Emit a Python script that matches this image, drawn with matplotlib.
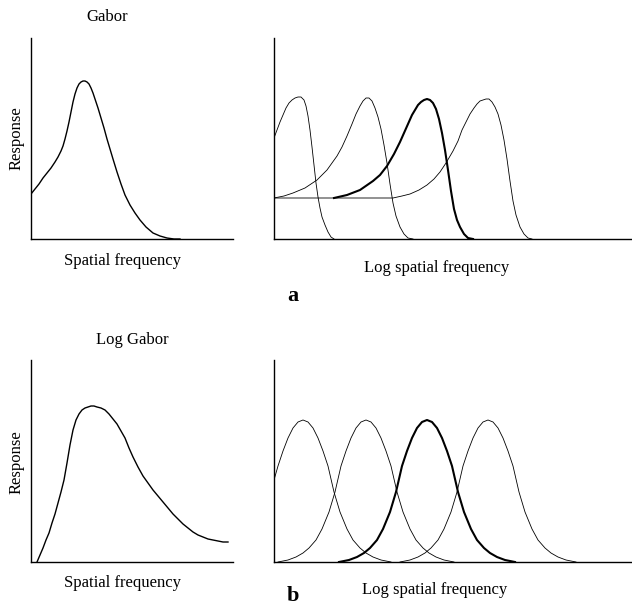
import matplotlib
matplotlib.use("Agg")
import matplotlib.pyplot as plt

# Figure is 632 x 605 px; data units below are pixel offsets from each axes origin
W, H = 632, 605

# --- panel a, left: Gabor response vs linear spatial frequency ---
gabor_x = [0, 4, 8, 12, 16, 20, 24, 27, 30, 32, 34, 36, 38, 40, 42, 44, 46, 48,
           50, 52, 54, 56, 58, 60, 62, 64, 67, 70, 73, 76, 79, 82, 86, 90, 94, 99,
           104, 109, 115, 122, 129, 136, 143, 149]
gabor_y = [45, 50, 55, 61, 66, 71, 77, 82, 88, 93, 100, 108, 117, 127, 137, 145,
           151, 155, 157, 158, 158, 157, 155, 151, 146, 140, 131, 121, 111, 100, 90,
           80, 67, 55, 44, 34, 26, 19, 12, 6, 3, 1, 0, 0]

# --- panel a, right: Gabor filter bank on log frequency axis ---
gab_bank_x = [
    [0, 3, 6, 9, 12, 15, 18, 21, 24, 27, 30, 32, 34, 36, 38, 40, 42, 44, 46, 48,
     51, 54, 57, 60],
    [0, 10, 19, 31, 43, 53, 63, 68, 73, 78, 82, 86, 89, 92, 95, 98, 101, 104, 107,
     110, 113, 116, 119, 122, 126, 130, 134, 139],
    [60, 73, 86, 99, 106, 113, 120, 126, 130, 134, 138, 141, 144, 147, 150, 153,
     156, 159, 162, 165, 168, 171, 174, 177, 180, 183, 186, 190, 194, 199],
    [0, 119, 128, 136, 145, 153, 160, 166, 172, 179, 184, 188, 192, 196, 200, 203,
     206, 209, 212, 215, 218, 221, 224, 227, 230, 233, 236, 239, 242, 246, 250,
     254, 258],
]
gab_bank_y = [
    [101, 109, 117, 124, 131, 136, 139, 141, 142, 142, 139, 133, 123, 109, 92, 74,
     56, 42, 31, 22, 14, 7, 2, 0],
    [41, 43, 46, 51, 59, 69, 83, 92, 103, 115, 125, 133, 138, 141, 141, 138, 131,
     122, 110, 94, 76, 55, 36, 23, 12, 5, 1, 0],
    [41, 44, 49, 58, 64, 73, 85, 97, 106, 115, 124, 129, 134, 137, 139, 140, 139,
     136, 130, 120, 106, 89, 69, 48, 30, 19, 12, 5, 1, 0],
    [41, 41, 43, 45, 49, 54, 60, 67, 76, 88, 98, 109, 117, 125, 131, 135, 138,
     139, 140, 140, 137, 132, 125, 114, 99, 80, 58, 38, 24, 12, 5, 1, 0],
]

# --- panel b, left: log-Gabor response vs linear spatial frequency ---
loggabor_x = [6, 9, 12, 15, 18, 21, 24, 27, 30, 33, 36, 39, 42, 45, 48, 51, 54,
              57, 60, 63, 66, 70, 74, 78, 82, 86, 90, 94, 98, 102, 107, 112, 117,
              122, 127, 132, 137, 142, 147, 152, 157, 162, 167, 172, 177, 182, 187,
              192, 197]
loggabor_y = [0, 7, 14, 22, 29, 39, 48, 59, 70, 82, 99, 117, 132, 142, 148, 152,
              154, 155, 156, 156, 155, 154, 152, 148, 143, 138, 131, 124, 114, 105,
              95, 86, 79, 72, 66, 60, 54, 48, 43, 38, 34, 30, 27, 25, 23, 22, 21,
              20, 20]

# --- panel b, right: log-Gabor filter bank on log frequency axis ---
lg_bank_x = [
    [0, 4, 9, 14, 19, 24, 29, 34, 39, 44, 49, 54, 60, 66, 73, 79, 86, 92, 99, 107, 117],
    [4, 14, 22, 29, 35, 42, 48, 55, 61, 67, 72, 77, 82, 87, 92, 97, 102, 107, 112,
     117, 123, 129, 136, 142, 149, 155, 162, 170, 180],
    [65, 75, 83, 90, 96, 103, 109, 116, 122, 128, 133, 138, 143, 148, 153, 158, 163,
     168, 173, 178, 184, 190, 197, 203, 210, 216, 223, 231, 241],
    [126, 136, 144, 151, 157, 164, 170, 177, 183, 189, 194, 199, 204, 209, 214, 219,
     224, 229, 234, 239, 245, 251, 258, 264, 271, 277, 284, 292, 302],
]
lg_bank_y = [
    [82, 96, 111, 124, 134, 140, 142, 140, 134, 124, 111, 96, 70, 50, 33, 22, 14, 9, 5, 2, 0],
    [0, 2, 5, 9, 14, 22, 33, 50, 70, 96, 111, 124, 134, 140, 142, 140, 134, 124, 111,
     96, 70, 50, 33, 22, 14, 9, 5, 2, 0],
    [0, 2, 5, 9, 14, 22, 33, 50, 70, 96, 111, 124, 134, 140, 142, 140, 134, 124, 111,
     96, 70, 50, 33, 22, 14, 9, 5, 2, 0],
    [0, 2, 5, 9, 14, 22, 33, 50, 70, 96, 111, 124, 134, 140, 142, 140, 134, 124, 111,
     96, 70, 50, 33, 22, 14, 9, 5, 2, 0],
]
highlight = 2  # third filter of each bank drawn heavier

plt.rcParams["font.family"] = ["Liberation Serif", "DejaVu Serif"]
plt.rcParams["font.size"] = 12

fig = plt.figure(figsize=(W / 100, H / 100), dpi=100)


def add_axes(left, top, right, bottom):
    """Axes from pixel box (top-left image origin)."""
    ax = fig.add_axes([left / W, 1 - bottom / H, (right - left) / W, (bottom - top) / H])
    ax.set_xlim(0, right - left)
    ax.set_ylim(0, bottom - top)
    for side in ("top", "right"):
        ax.spines[side].set_visible(False)
    for side in ("left", "bottom"):
        ax.spines[side].set_linewidth(1.0)
    ax.set_xticks([])
    ax.set_yticks([])
    ax.patch.set_alpha(0)
    return ax


def label(x, y, s, **kw):
    fig.text(x / W, 1 - y / H, s, ha="center", va="center", **kw)


ax1 = add_axes(31, 38, 233, 239)
ax1.plot(gabor_x, gabor_y, color="black", lw=1.0)

ax2 = add_axes(274, 38, 631, 239)
for i, (xs, ys) in enumerate(zip(gab_bank_x, gab_bank_y)):
    ax2.plot(xs, ys, color="black", lw=1.5 if i == highlight else 0.6)

ax3 = add_axes(31, 360, 233, 562)
ax3.plot(loggabor_x, loggabor_y, color="black", lw=1.0)

ax4 = add_axes(274, 360, 631, 562)
for i, (xs, ys) in enumerate(zip(lg_bank_x, lg_bank_y)):
    ax4.plot(xs, ys, color="black", lw=1.5 if i == highlight else 0.6)

# text
label(107, 17, "Gabor")
label(17, 138, "Response", rotation=90)
label(122, 261, "Spatial frequency")
label(437, 268, "Log spatial frequency")
label(293, 296, "a", fontsize=16, fontweight="bold")

label(132, 340, "Log Gabor")
label(17, 462, "Response", rotation=90)
label(122, 583, "Spatial frequency")
label(435, 590, "Log spatial frequency")
label(293, 596, "b", fontsize=16, fontweight="bold")

fig.savefig("out.png", dpi=100)
plt.close(fig)
